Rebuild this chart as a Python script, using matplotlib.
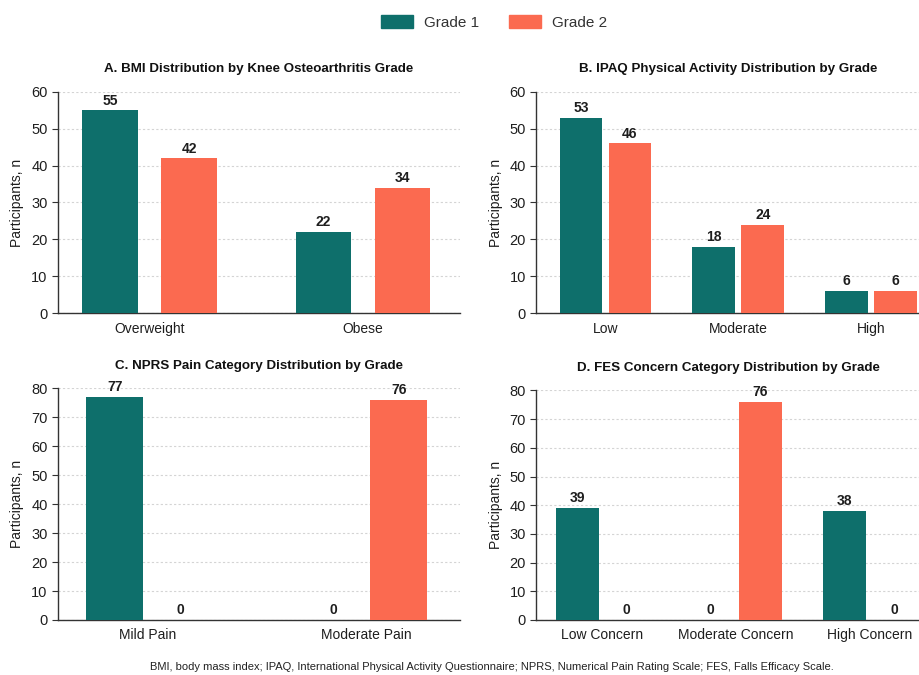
import matplotlib.pyplot as plt
import numpy as np
from matplotlib.patches import Patch

plt.rcParams['font.family'] = ['Liberation Sans', 'DejaVu Sans']

TEAL = "#0e6f6b"
ORANGE = "#fb6a50"

bmi_cats = ["Overweight", "Obese"]
bmi_g1 = [55, 22]
bmi_g2 = [42, 34]

ipaq_cats = ["Low", "Moderate", "High"]
ipaq_g1 = [53, 18, 6]
ipaq_g2 = [46, 24, 6]

nprs_cats = ["Mild Pain", "Moderate Pain"]
nprs_g1 = [77, 0]
nprs_g2 = [0, 76]

fes_cats = ["Low Concern", "Moderate Concern", "High Concern"]
fes_g1 = [39, 0, 38]
fes_g2 = [0, 76, 0]

fig = plt.figure(figsize=(9.2, 6.75), dpi=100)


def panel(rect, title, cats, g1, g2, ymax, width, offset, xlim):
    ax = fig.add_axes(rect)
    x = np.arange(len(cats))
    for vals, sign, col in ((g1, -1, TEAL), (g2, 1, ORANGE)):
        bars = ax.bar(x + sign * offset, vals, width, color=col, zorder=3)
        for b, v in zip(bars, vals):
            ax.text(b.get_x() + b.get_width() / 2, v + ymax * 0.012, str(v),
                    ha="center", va="bottom", fontsize=10, color="#1e1e1e",
                    fontweight="bold")
    ax.set_ylim(0, ymax)
    ax.set_xlim(*xlim)
    ax.set_yticks(range(0, ymax + 1, 10))
    ax.set_xticks(x)
    ax.set_xticklabels(cats, fontsize=10, color="#1e1e1e")
    ax.tick_params(axis="x", length=0, pad=6)
    ax.tick_params(axis="y", labelsize=10.5, length=4, color="#333333",
                   labelcolor="#1e1e1e")
    ax.yaxis.grid(True, linestyle=(0, (2, 2)), color="#d4d4d4", linewidth=0.8, zorder=0)
    for s in ("top", "right"):
        ax.spines[s].set_visible(False)
    for s in ("left", "bottom"):
        ax.spines[s].set_color("#333333")
        ax.spines[s].set_linewidth(1.0)
    ax.set_ylabel("Participants, n", fontsize=10, labelpad=5, color="#1e1e1e")
    ax.set_title(title, fontsize=9.6, fontweight="bold", pad=14, color="#111111")
    return ax


panel([0.063, 0.536, 0.437, 0.328], "A. BMI Distribution by Knee Osteoarthritis Grade",
      bmi_cats, bmi_g1, bmi_g2, 60, 0.26, 0.185, (-0.43, 1.455))
panel([0.583, 0.536, 0.417, 0.328], "B. IPAQ Physical Activity Distribution by Grade",
      ipaq_cats, ipaq_g1, ipaq_g2, 60, 0.32, 0.185, (-0.52, 2.37))
panel([0.063, 0.0815, 0.437, 0.343], "C. NPRS Pain Category Distribution by Grade",
      nprs_cats, nprs_g1, nprs_g2, 80, 0.26, 0.15, (-0.41, 1.43))
panel([0.583, 0.0815, 0.417, 0.340], "D. FES Concern Category Distribution by Grade",
      fes_cats, fes_g1, fes_g2, 80, 0.32, 0.185, (-0.49, 2.38))

handles = [Patch(color=TEAL, label="Grade 1"), Patch(color=ORANGE, label="Grade 2")]
fig.legend(handles=handles, loc="center", bbox_to_anchor=(0.537, 0.967), ncol=2,
           frameon=False, fontsize=11, handlelength=2.1, handleheight=0.95,
           handletextpad=0.7, columnspacing=2.0, labelcolor="#333333")

fig.text(0.535, 0.012, "BMI, body mass index; IPAQ, International Physical Activity Questionnaire; "
         "NPRS, Numerical Pain Rating Scale; FES, Falls Efficacy Scale.",
         ha="center", va="center", fontsize=8, color="#222222")

fig.savefig("out.png", dpi=100, facecolor="white")
